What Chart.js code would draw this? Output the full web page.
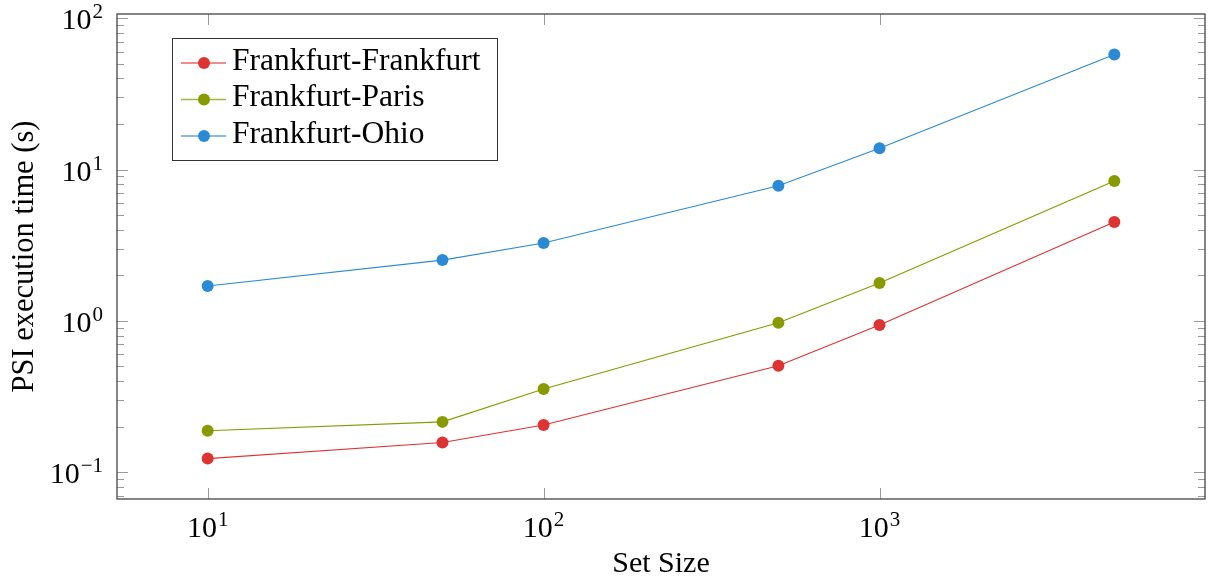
<!DOCTYPE html>
<html>
<head>
<meta charset="utf-8">
<script src="https://cdn.jsdelivr.net/npm/chart.js@4.4.0/dist/chart.umd.min.js"></script>
<style>
  body { margin: 0; background: #fff; }
  #wrap { width: 1211px; height: 578px; }
</style>
</head>
<body>
<div id="wrap"><canvas id="myChart"></canvas></div>
<script>
const setSizes = [10, 50, 100, 500, 1000, 5000];
const frankfurtFrankfurt = [0.123, 0.157, 0.205, 0.505, 0.94, 4.5];
const frankfurtParis = [0.188, 0.215, 0.355, 0.97, 1.78, 8.4];
const frankfurtOhio = [1.70, 2.52, 3.27, 7.8, 13.8, 57.6];
const seriesNames = ["Frankfurt-Frankfurt", "Frankfurt-Paris", "Frankfurt-Ohio"];
const xTickExps = [1, 2, 3];
const yTickExps = [-1, 0, 1, 2];

const colors = ["#dd3333", "#889a00", "#2b8ad6"];
const FONT = "'Liberation Serif', 'Times New Roman', serif";

// pgfplots style: enlarge limits by 10% of the log range
function enlarged(vals) {
  let lo = Math.log10(Math.min(...vals)), hi = Math.log10(Math.max(...vals));
  let d = (hi - lo) * 0.1;
  return [Math.pow(10, lo - d), Math.pow(10, hi + d)];
}
const xLim = enlarged(setSizes);
const yLim = enlarged(frankfurtFrankfurt.concat(frankfurtParis, frankfurtOhio));

function pts(ys) {
  return setSizes.map((x, i) => ({ x: x, y: ys[i] }));
}

const allSeries = [frankfurtFrankfurt, frankfurtParis, frankfurtOhio];
const datasets = allSeries.map((s, i) => ({
  label: seriesNames[i],
  data: pts(s),
  borderColor: colors[i],
  backgroundColor: colors[i],
  borderWidth: 1.1,
  pointRadius: 6,
  pointHoverRadius: 6,
  pointBorderWidth: 0,
  tension: 0
}));

function powLabel(ctx, exp, x, y, align) {
  let base = "10", sup = exp < 0 ? "\u2212" + (-exp) : String(exp);
  ctx.font = "30px " + FONT;
  let bw = ctx.measureText(base).width;
  ctx.font = "21px " + FONT;
  let sw = ctx.measureText(sup).width;
  let total = bw + 1 + sw;
  let left = align === "right" ? x - total : x - total / 2;
  ctx.textAlign = "left";
  ctx.textBaseline = "alphabetic";
  ctx.font = "30px " + FONT;
  ctx.fillText(base, left, y);
  ctx.font = "21px " + FONT;
  ctx.fillText(sup, left + bw + 1, y - 11);
}

const axisPlugin = {
  id: "axisPlugin",
  afterDraw(chart) {
    const ctx = chart.ctx, a = chart.chartArea;
    const xs = chart.scales.x, ys = chart.scales.y;
    ctx.save();
    // ticks
    ctx.strokeStyle = "#9a9a9a";
    ctx.lineWidth = 1;
    ctx.beginPath();
    for (let e = Math.floor(Math.log10(yLim[0])); e <= Math.ceil(Math.log10(yLim[1])); e++) {
      for (let m = 1; m <= 9; m++) {
        let v = m * Math.pow(10, e);
        if (v < yLim[0] || v > yLim[1]) continue;
        let py = Math.round(ys.getPixelForValue(v)) + 0.5;
        let len = m === 1 ? 11 : 7;
        ctx.moveTo(a.left, py); ctx.lineTo(a.left + len, py);
        ctx.moveTo(a.right, py); ctx.lineTo(a.right - len, py);
      }
    }
    xTickExps.forEach(e => {
      let px = Math.round(xs.getPixelForValue(Math.pow(10, e))) + 0.5;
      ctx.moveTo(px, a.bottom); ctx.lineTo(px, a.bottom - 11);
      ctx.moveTo(px, a.top); ctx.lineTo(px, a.top + 11);
    });
    ctx.stroke();
    // frame
    ctx.strokeStyle = "#444";
    ctx.lineWidth = 1.3;
    ctx.strokeRect(a.left, a.top, a.right - a.left, a.bottom - a.top);
    // tick labels
    ctx.fillStyle = "#000";
    yTickExps.forEach(e => {
      let py = ys.getPixelForValue(Math.pow(10, e));
      powLabel(ctx, e, a.left - 14, py + 11, "right");
    });
    xTickExps.forEach(e => {
      let px = xs.getPixelForValue(Math.pow(10, e));
      powLabel(ctx, e, px, 537, "center");
    });
    // axis titles
    ctx.font = "30px " + FONT;
    ctx.textAlign = "center";
    ctx.textBaseline = "alphabetic";
    ctx.fillText("Set Size", (a.left + a.right) / 2, 572);
    ctx.save();
    ctx.translate(33, (a.top + a.bottom) / 2);
    ctx.rotate(-Math.PI / 2);
    ctx.font = "30.5px " + FONT;
    ctx.fillText("PSI execution time (s)", 0, 0);
    ctx.restore();
    // legend
    const lx = 172, ly = 38, lw = 325, lh = 122;
    ctx.fillStyle = "#fff";
    ctx.fillRect(lx, ly, lw, lh);
    ctx.strokeStyle = "#333";
    ctx.lineWidth = 1;
    ctx.strokeRect(lx + 0.5, ly + 0.5, lw, lh);
    chart.data.datasets.forEach((ds, i) => {
      let cy = 63 + i * 36.5;
      ctx.strokeStyle = ds.borderColor;
      ctx.globalAlpha = 0.75;
      ctx.lineWidth = 1.5;
      ctx.beginPath();
      ctx.moveTo(181, cy); ctx.lineTo(226, cy);
      ctx.stroke();
      ctx.globalAlpha = 1;
      ctx.fillStyle = ds.backgroundColor;
      ctx.beginPath();
      ctx.arc(204, cy, 6, 0, Math.PI * 2);
      ctx.fill();
      ctx.fillStyle = "#000";
      ctx.font = "31.5px " + FONT;
      ctx.textAlign = "left";
      ctx.textBaseline = "alphabetic";
      ctx.fillText(ds.label, 232, cy + 6.5);
    });
    ctx.restore();
  }
};

new Chart("myChart", {
  type: "line",
  data: { datasets: datasets },
  options: {
    responsive: true,
    maintainAspectRatio: false,
    animation: false,
    layout: { padding: { left: 0, right: 4, top: 14, bottom: 0 } },
    plugins: { legend: { display: false }, tooltip: { enabled: false } },
    scales: {
      x: {
        type: "logarithmic",
        min: xLim[0], max: xLim[1],
        grid: { display: false, drawTicks: false },
        border: { display: false },
        ticks: { display: false },
        afterFit(s) { s.height = 79; }
      },
      y: {
        type: "logarithmic",
        min: yLim[0], max: yLim[1],
        grid: { display: false, drawTicks: false },
        border: { display: false },
        ticks: { display: false },
        afterFit(s) { s.width = 117; }
      }
    }
  },
  plugins: [axisPlugin]
});
</script>
</body>
</html>
